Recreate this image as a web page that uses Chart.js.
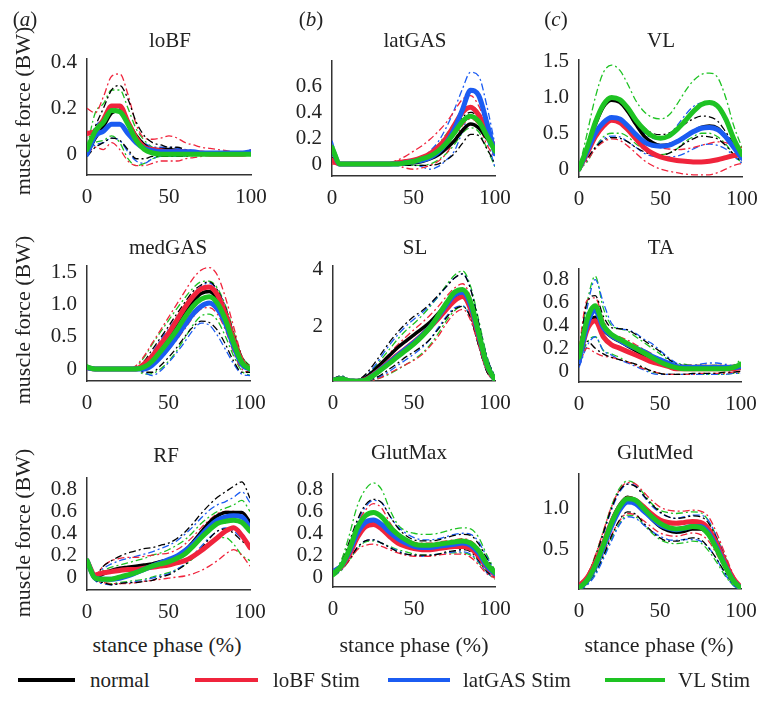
<!DOCTYPE html>
<html>
<head>
<meta charset="utf-8">
<script src="https://cdn.jsdelivr.net/npm/chart.js@4.4.1/dist/chart.umd.min.js"></script>
<style>
  body { margin: 0; background: #fff; }
  #wrap { position: relative; width: 761px; height: 708px; overflow: hidden;
          font-family: "Liberation Serif", "Times New Roman", serif; color: #222; }
  #wrap canvas { position: absolute; }
  .txt { position: absolute; white-space: nowrap; transform: translate(-50%, -50%); font-size: 21px; line-height: 1; }
  .ylab { transform: translate(-50%, -50%) rotate(-90deg); font-size: 22px; }
  .xlab { font-size: 22px; }
  .leg-line { position: absolute; height: 4px; }
  .leg-txt { position: absolute; white-space: nowrap; font-size: 21px; line-height: 1; transform: translateY(-50%); }
</style>
</head>
<body>
<div id="wrap"></div>
<script>
// stance phase samples (%)
const phase = [0, 5, 10, 15, 20, 25, 30, 35, 40, 45, 50, 55, 60, 65, 70, 75, 80, 85, 90, 95, 100];

const groupNames = ["normal", "loBF Stim", "latGAS Stim", "VL Stim"];

// ---- loBF ----
const loBF_normal    = [0.00,0.07,0.12,0.18,0.19,0.14,0.08,0.04,0.02,0.02,0.02,0.015,0.01,0.005,0,0,0,0,0,0,0];
const loBF_normal_hi = [0.02,0.12,0.20,0.28,0.30,0.24,0.14,0.08,0.05,0.04,0.03,0.03,0.02,0.015,0.01,0.01,0.005,0,0,0,0];
const loBF_normal_lo = [-0.01,0.03,0.05,0.07,0.06,0.02,-0.02,-0.02,-0.01,-0.01,-0.01,-0.01,-0.01,-0.005,0,0,0,0,0,0,0];
const loBF_red       = [0.09,0.10,0.15,0.21,0.21,0.14,0.07,0.03,0.02,0.015,0.01,0.01,0.01,0.005,0.005,0,0,0,0,0,0.01];
const loBF_red_hi    = [0.20,0.18,0.25,0.34,0.35,0.26,0.13,0.07,0.065,0.07,0.08,0.07,0.05,0.04,0.03,0.025,0.02,0.015,0.01,0.01,0.01];
const loBF_red_lo    = [0,0.03,0.02,0.05,0.02,-0.03,-0.05,-0.05,-0.04,-0.03,-0.03,-0.03,-0.02,-0.015,-0.01,-0.005,0,0,0,0,0];
const loBF_blue      = [0,0.08,0.10,0.13,0.13,0.09,0.05,0.025,0.015,0.01,0.01,0.01,0.01,0.01,0.005,0.005,0.005,0.005,0.005,0.005,0.01];
const loBF_blue_hi   = [0,0.12,0.15,0.19,0.20,0.15,0.08,0.05,0.03,0.03,0.03,0.025,0.02,0.015,0.01,0.01,0.01,0.01,0.01,0.01,0.02];
const loBF_blue_lo   = [0,0.04,0.05,0.07,0.06,0.01,-0.03,-0.04,-0.02,-0.01,-0.01,-0.01,-0.01,0,0,0,0,0,0,0,0];
const loBF_green     = [0.02,0.10,0.14,0.19,0.185,0.13,0.06,0.02,0.005,0,0,0,0,0,0,0,0,0,0,0,0];
const loBF_green_hi  = [0.03,0.18,0.22,0.28,0.28,0.20,0.11,0.06,0.03,0.02,0.02,0.015,0.01,0.01,0.01,0.01,0.01,0.01,0.01,0.01,0.01];
const loBF_green_lo  = [0,0.05,0.06,0.08,0.05,-0.02,-0.05,-0.04,-0.02,-0.01,-0.01,-0.01,-0.005,0,0,0,0,0,0,0,0];
const loBF_yTicks = [0, 0.2, 0.4];
const loBF_yLabels = ["0", "0.2", "0.4"];

// ---- latGAS ----
const latGAS_normal    = [0.1,0,0,0,0,0,0,0,0,0.005,0.01,0.02,0.04,0.07,0.12,0.18,0.26,0.31,0.28,0.2,0.13];
const latGAS_normal_hi = [0.12,0,0,0,0,0,0,0,0.01,0.02,0.03,0.05,0.08,0.13,0.2,0.27,0.36,0.4,0.36,0.25,0.14];
const latGAS_normal_lo = [0.05,0,0,0,0,0,0,0,0,-0.01,-0.01,-0.01,-0.01,0,0.03,0.08,0.16,0.23,0.22,0.12,0];
const latGAS_red       = [0.03,0,0,0,0,0,0,0,0.01,0.02,0.03,0.05,0.08,0.13,0.2,0.3,0.4,0.44,0.38,0.25,0.12];
const latGAS_red_hi    = [0.05,0,0,0,0,0,0,0.01,0.03,0.06,0.1,0.14,0.19,0.25,0.32,0.41,0.5,0.53,0.45,0.3,0.15];
const latGAS_red_lo    = [0,0,0,0,0,0,0,0,-0.01,-0.03,-0.04,-0.03,-0.01,0.02,0.08,0.18,0.3,0.35,0.3,0.15,0.05];
const latGAS_blue      = [0.12,0,0,0,0,0,0,0,0,0.01,0.02,0.03,0.05,0.09,0.16,0.27,0.42,0.57,0.53,0.32,0.08];
const latGAS_blue_hi   = [0.18,0,0,0,0,0,0,0,0.01,0.02,0.03,0.05,0.1,0.17,0.28,0.42,0.58,0.71,0.68,0.45,0.15];
const latGAS_blue_lo   = [0.05,0,0,0,0,0,0,0,0,-0.01,-0.01,-0.02,-0.04,-0.02,0.03,0.1,0.25,0.4,0.38,0.2,-0.03];
const latGAS_green     = [0.13,0,0,0,0,0,0,0,0,0.01,0.02,0.04,0.06,0.1,0.16,0.24,0.33,0.37,0.33,0.22,0.1];
const latGAS_green_hi  = [0.15,0,0,0,0,0,0,0,0.01,0.02,0.03,0.05,0.09,0.15,0.23,0.31,0.41,0.45,0.4,0.28,0.12];
const latGAS_green_lo  = [0.08,0,0,0,0,0,0,0,0,-0.01,-0.01,-0.01,0,0.03,0.08,0.15,0.24,0.28,0.25,0.12,-0.02];
const latGAS_yTicks = [0, 0.2, 0.4, 0.6];
const latGAS_yLabels = ["0", "0.2", "0.4", "0.6"];

// ---- VL ----
const VL_normal    = [0,0.3,0.62,0.87,0.96,0.93,0.8,0.62,0.46,0.37,0.33,0.34,0.38,0.45,0.52,0.58,0.6,0.57,0.45,0.3,0.15];
const VL_normal_hi = [0,0.35,0.7,0.9,0.97,0.95,0.85,0.7,0.58,0.5,0.48,0.5,0.55,0.63,0.7,0.74,0.73,0.67,0.52,0.35,0.18];
const VL_normal_lo = [0,0.15,0.3,0.4,0.44,0.43,0.38,0.3,0.24,0.2,0.19,0.22,0.28,0.36,0.42,0.46,0.45,0.42,0.33,0.2,0.1];
const VL_red       = [0,0.22,0.45,0.6,0.68,0.65,0.55,0.42,0.3,0.22,0.17,0.14,0.12,0.11,0.1,0.1,0.11,0.13,0.16,0.19,0.2];
const VL_red_hi    = [0,0.3,0.62,0.85,0.95,0.92,0.78,0.6,0.45,0.35,0.3,0.28,0.27,0.28,0.3,0.33,0.36,0.38,0.37,0.33,0.3];
const VL_red_lo    = [0,0.12,0.28,0.38,0.42,0.4,0.32,0.22,0.12,0.05,0,-0.03,-0.05,-0.07,-0.08,-0.08,-0.08,-0.05,0,0.05,0.08];
const VL_blue      = [0,0.25,0.5,0.65,0.72,0.7,0.6,0.48,0.38,0.33,0.32,0.33,0.38,0.45,0.52,0.57,0.58,0.55,0.45,0.3,0.15];
const VL_blue_hi   = [0,0.35,0.68,0.88,0.95,0.93,0.8,0.62,0.5,0.43,0.42,0.48,0.6,0.75,0.87,0.92,0.92,0.85,0.65,0.4,0.2];
const VL_blue_lo   = [0,0.12,0.3,0.42,0.46,0.45,0.38,0.3,0.22,0.18,0.17,0.17,0.18,0.22,0.28,0.33,0.35,0.33,0.28,0.18,0.08];
const VL_green     = [0,0.3,0.65,0.9,1.0,0.97,0.85,0.68,0.55,0.46,0.43,0.46,0.55,0.67,0.8,0.9,0.93,0.88,0.7,0.42,0.2];
const VL_green_hi  = [0,0.5,1.0,1.35,1.45,1.38,1.18,0.95,0.8,0.72,0.7,0.75,0.9,1.08,1.23,1.32,1.34,1.28,1.0,0.6,0.3];
const VL_green_lo  = [0,0.1,0.3,0.45,0.5,0.5,0.45,0.35,0.28,0.22,0.2,0.22,0.28,0.38,0.45,0.5,0.5,0.45,0.35,0.2,0.08];
const VL_yTicks = [0, 0.5, 1.0, 1.5];
const VL_yLabels = ["0", "0.5", "1.0", "1.5"];

// ---- medGAS ----
const medGAS_normal    = [0.02,0,0,0,0,0,0,0.05,0.17,0.33,0.5,0.68,0.88,1.05,1.17,1.2,1.08,0.8,0.42,0.1,0];
const medGAS_normal_hi = [0.05,0,0,0,0,0,0.02,0.12,0.3,0.48,0.66,0.85,1.03,1.2,1.3,1.35,1.22,0.95,0.55,0.2,0.02];
const medGAS_normal_lo = [0,0,0,0,0,0,0,-0.05,-0.05,0.05,0.18,0.33,0.5,0.65,0.74,0.72,0.6,0.38,0.12,-0.05,-0.05];
const medGAS_red       = [0.02,0,0,0,0,0,0,0.08,0.2,0.38,0.55,0.75,0.95,1.12,1.24,1.27,1.15,0.85,0.45,0.12,0];
const medGAS_red_hi    = [0.05,0,0,0,0,0,0.05,0.2,0.4,0.6,0.8,1.0,1.2,1.4,1.53,1.57,1.45,1.1,0.65,0.2,0];
const medGAS_red_lo    = [0,0,0,0,0,0,0,0,0.05,0.15,0.3,0.45,0.62,0.8,0.93,0.95,0.85,0.6,0.25,0,-0.05];
const medGAS_blue      = [0.02,0,0,0,0,0,0,0,0.06,0.18,0.33,0.5,0.68,0.85,0.97,1.02,0.93,0.7,0.35,0.07,0];
const medGAS_blue_hi   = [0.05,0,0,0,0,0,0,0.08,0.25,0.45,0.62,0.8,0.98,1.15,1.28,1.33,1.22,0.95,0.55,0.18,0];
const medGAS_blue_lo   = [0,0,0,0,0,0,0,-0.05,-0.1,-0.03,0.1,0.25,0.42,0.6,0.71,0.68,0.52,0.3,0.08,-0.08,-0.1];
const medGAS_green     = [0.03,0,0,0,0,0,0,0.03,0.12,0.27,0.43,0.6,0.8,0.97,1.08,1.12,1.02,0.76,0.4,0.1,0];
const medGAS_green_hi  = [0.07,0,0,0,0,0,0.04,0.18,0.38,0.57,0.75,0.93,1.1,1.25,1.35,1.36,1.25,0.98,0.58,0.2,0.05];
const medGAS_green_lo  = [0,0,0,0,0,0,0,-0.08,-0.07,0,0.12,0.28,0.48,0.68,0.82,0.85,0.75,0.5,0.2,-0.03,-0.1];
const medGAS_yTicks = [0, 0.5, 1.0, 1.5];
const medGAS_yLabels = ["0", "0.5", "1.0", "1.5"];

// ---- SL ----
const SL_normal    = [0.10,0.15,0.08,0.08,0.18,0.42,0.7,0.98,1.25,1.48,1.7,1.92,2.15,2.45,2.8,3.05,3.1,2.65,1.6,0.6,0.1];
const SL_normal_hi = [0.15,0.25,0.12,0.12,0.3,0.65,1.05,1.45,1.8,2.1,2.35,2.55,2.8,3.1,3.4,3.7,3.85,3.3,2.1,0.9,0.2];
const SL_normal_lo = [0.05,0.1,0.05,0.03,0.05,0.15,0.3,0.5,0.7,0.92,1.1,1.3,1.55,1.9,2.3,2.6,2.7,2.3,1.3,0.4,0.05];
const SL_red       = [0.10,0.15,0.08,0.06,0.12,0.3,0.52,0.76,1.0,1.22,1.45,1.7,1.97,2.27,2.6,2.9,3.05,2.6,1.6,0.6,0.1];
const SL_red_hi    = [0.15,0.22,0.1,0.1,0.2,0.45,0.75,1.05,1.35,1.62,1.88,2.13,2.4,2.7,3.05,3.35,3.5,3.0,1.9,0.8,0.15];
const SL_red_lo    = [0.05,0.08,0.05,0.03,0.05,0.1,0.2,0.35,0.5,0.65,0.8,1.0,1.3,1.65,2.1,2.45,2.6,2.2,1.3,0.4,0.05];
const SL_blue      = [0.10,0.15,0.08,0.06,0.1,0.28,0.5,0.73,0.97,1.2,1.42,1.68,1.98,2.35,2.75,3.1,3.2,2.75,1.7,0.65,0.1];
const SL_blue_hi   = [0.15,0.25,0.12,0.1,0.25,0.55,0.95,1.35,1.7,2.0,2.25,2.48,2.75,3.05,3.4,3.7,3.85,3.3,2.1,0.9,0.2];
const SL_blue_lo   = [0.05,0.1,0.05,0.03,0.05,0.12,0.25,0.42,0.62,0.82,1.02,1.25,1.55,1.95,2.35,2.65,2.72,2.3,1.3,0.4,0.05];
const SL_green     = [0.10,0.15,0.08,0.06,0.1,0.27,0.48,0.7,0.93,1.15,1.38,1.65,1.97,2.38,2.82,3.2,3.3,2.85,1.75,0.65,0.1];
const SL_green_hi  = [0.15,0.25,0.12,0.1,0.22,0.5,0.85,1.2,1.55,1.85,2.1,2.38,2.7,3.05,3.45,3.8,3.95,3.4,2.2,0.95,0.2];
const SL_green_lo  = [0.05,0.1,0.05,0.03,0.05,0.1,0.2,0.32,0.48,0.65,0.83,1.05,1.35,1.75,2.2,2.55,2.7,2.3,1.3,0.4,0.05];
const SL_yTicks = [2, 4];
const SL_yLabels = ["2", "4"];

// ---- TA ----
const TA_normal    = [0.1,0.38,0.47,0.36,0.3,0.26,0.22,0.18,0.14,0.1,0.07,0.04,0.02,0.02,0.02,0.02,0.02,0.02,0.02,0.02,0.04];
const TA_normal_hi = [0.15,0.6,0.66,0.48,0.38,0.37,0.36,0.32,0.27,0.22,0.17,0.11,0.06,0.05,0.05,0.05,0.05,0.05,0.05,0.04,0.06];
const TA_normal_lo = [0.05,0.26,0.2,0.15,0.12,0.1,0.08,0.06,0.03,0,-0.02,-0.03,-0.03,-0.03,-0.02,-0.02,-0.02,-0.02,-0.01,-0.01,0];
const TA_red       = [0.1,0.36,0.44,0.3,0.23,0.2,0.17,0.14,0.11,0.08,0.06,0.04,0.02,0.02,0.02,0.02,0.02,0.02,0.02,0.02,0.03];
const TA_red_hi    = [0.2,0.62,0.64,0.45,0.33,0.3,0.27,0.23,0.19,0.15,0.1,0.07,0.05,0.05,0.05,0.05,0.05,0.05,0.05,0.05,0.05];
const TA_red_lo    = [0.05,0.2,0.16,0.13,0.12,0.1,0.08,0.05,0.02,0,-0.02,-0.03,-0.03,-0.03,-0.03,-0.02,-0.02,-0.02,-0.02,-0.01,-0.01];
const TA_blue      = [0.08,0.4,0.53,0.38,0.31,0.27,0.23,0.2,0.17,0.13,0.1,0.07,0.04,0.03,0.03,0.03,0.03,0.03,0.03,0.03,0.04];
const TA_blue_hi   = [0.15,0.55,0.8,0.6,0.42,0.37,0.36,0.33,0.28,0.24,0.18,0.12,0.07,0.05,0.05,0.06,0.07,0.07,0.06,0.05,0.07];
const TA_blue_lo   = [0.03,0.22,0.3,0.18,0.14,0.1,0.07,0.04,0.01,-0.02,-0.03,-0.03,-0.03,-0.03,-0.03,-0.03,-0.03,-0.03,-0.03,-0.02,-0.02];
const TA_green     = [0.12,0.45,0.57,0.4,0.32,0.28,0.24,0.2,0.16,0.12,0.08,0.05,0.03,0.02,0.02,0.02,0.02,0.02,0.02,0.03,0.06];
const TA_green_hi  = [0.2,0.6,0.83,0.55,0.4,0.37,0.35,0.3,0.25,0.2,0.15,0.1,0.07,0.06,0.05,0.05,0.05,0.05,0.05,0.05,0.1];
const TA_green_lo  = [0.05,0.25,0.3,0.18,0.15,0.12,0.08,0.05,0.02,-0.01,-0.02,-0.03,-0.03,-0.03,-0.03,-0.03,-0.03,-0.03,-0.03,-0.02,-0.02];
const TA_yTicks = [0, 0.2, 0.4, 0.6, 0.8];
const TA_yLabels = ["0", "0.2", "0.4", "0.6", "0.8"];

// ---- RF ----
const RF_normal    = [0.15,0,0.03,0.06,0.08,0.09,0.1,0.11,0.12,0.14,0.16,0.19,0.24,0.32,0.41,0.5,0.56,0.59,0.59,0.59,0.5];
const RF_normal_hi = [0.17,0.02,0.1,0.15,0.19,0.22,0.24,0.26,0.27,0.29,0.31,0.35,0.41,0.49,0.58,0.66,0.73,0.78,0.83,0.87,0.72];
const RF_normal_lo = [0.13,-0.02,-0.05,-0.07,-0.06,-0.05,-0.05,-0.04,-0.03,0,0.02,0.06,0.11,0.18,0.26,0.35,0.42,0.44,0.4,0.33,0.28];
const RF_red       = [0.15,0.02,0.04,0.05,0.06,0.07,0.07,0.08,0.09,0.1,0.11,0.13,0.15,0.19,0.24,0.3,0.36,0.42,0.45,0.38,0.27];
const RF_red_hi    = [0.15,0.02,0.1,0.15,0.17,0.18,0.18,0.19,0.2,0.21,0.22,0.25,0.3,0.37,0.45,0.52,0.58,0.6,0.6,0.55,0.45];
const RF_red_lo    = [0.15,-0.02,-0.05,-0.06,-0.06,-0.06,-0.05,-0.04,-0.03,-0.02,-0.01,0,0.01,0.03,0.06,0.1,0.15,0.21,0.25,0.2,0.1];
const RF_blue      = [0.15,-0.01,-0.02,-0.02,-0.01,0.01,0.04,0.07,0.1,0.13,0.16,0.19,0.24,0.3,0.38,0.46,0.52,0.55,0.56,0.55,0.45];
const RF_blue_hi   = [0.15,0.02,0.08,0.12,0.15,0.17,0.19,0.21,0.23,0.26,0.29,0.33,0.39,0.46,0.54,0.61,0.66,0.69,0.73,0.78,0.68];
const RF_blue_lo   = [0.13,-0.03,-0.06,-0.07,-0.06,-0.05,-0.04,-0.03,-0.01,0.01,0.03,0.07,0.12,0.2,0.28,0.36,0.42,0.45,0.42,0.35,0.28];
const RF_green     = [0.15,-0.01,-0.02,-0.02,0,0.02,0.04,0.07,0.1,0.12,0.14,0.17,0.21,0.28,0.36,0.43,0.49,0.51,0.52,0.5,0.42];
const RF_green_hi  = [0.15,0.02,0.06,0.09,0.11,0.13,0.15,0.17,0.2,0.22,0.25,0.29,0.34,0.41,0.49,0.55,0.6,0.63,0.66,0.7,0.6];
const RF_green_lo  = [0.13,-0.03,-0.05,-0.06,-0.05,-0.04,-0.03,-0.02,0,0.02,0.04,0.07,0.11,0.17,0.24,0.31,0.36,0.36,0.3,0.2,0.15];
const RF_yTicks = [0, 0.2, 0.4, 0.6, 0.8];
const RF_yLabels = ["0", "0.2", "0.4", "0.6", "0.8"];

// ---- GlutMax ----
const GlutMax_normal    = [0.04,0.1,0.24,0.4,0.49,0.5,0.46,0.39,0.34,0.3,0.28,0.27,0.27,0.28,0.3,0.31,0.32,0.3,0.23,0.11,0.03];
const GlutMax_normal_hi = [0.05,0.13,0.32,0.52,0.66,0.71,0.68,0.56,0.45,0.38,0.34,0.33,0.33,0.34,0.36,0.38,0.39,0.38,0.3,0.17,0.05];
const GlutMax_normal_lo = [0.02,0.07,0.16,0.27,0.33,0.34,0.31,0.27,0.23,0.21,0.2,0.2,0.2,0.21,0.23,0.24,0.25,0.23,0.15,0.05,0];
const GlutMax_red       = [0.05,0.09,0.2,0.36,0.46,0.48,0.44,0.37,0.31,0.28,0.26,0.25,0.25,0.26,0.27,0.28,0.28,0.26,0.19,0.09,0.02];
const GlutMax_red_hi    = [0.06,0.12,0.28,0.48,0.61,0.67,0.63,0.5,0.4,0.35,0.32,0.31,0.31,0.32,0.33,0.34,0.35,0.33,0.26,0.13,0.04];
const GlutMax_red_lo    = [0.03,0.07,0.15,0.25,0.29,0.3,0.28,0.25,0.22,0.2,0.19,0.19,0.19,0.2,0.21,0.21,0.21,0.18,0.11,0.03,-0.01];
const GlutMax_blue      = [0.05,0.1,0.23,0.4,0.5,0.52,0.48,0.41,0.35,0.31,0.28,0.27,0.27,0.28,0.29,0.3,0.31,0.29,0.22,0.1,0.03];
const GlutMax_blue_hi   = [0.05,0.12,0.3,0.5,0.64,0.7,0.68,0.56,0.46,0.4,0.36,0.34,0.34,0.35,0.37,0.39,0.4,0.39,0.32,0.18,0.05];
const GlutMax_blue_lo   = [0.02,0.06,0.16,0.27,0.33,0.34,0.31,0.27,0.24,0.21,0.2,0.19,0.2,0.21,0.22,0.23,0.23,0.21,0.14,0.04,0];
const GlutMax_green     = [0.03,0.1,0.25,0.45,0.56,0.59,0.55,0.46,0.39,0.34,0.3,0.29,0.29,0.3,0.31,0.32,0.33,0.31,0.24,0.12,0.04];
const GlutMax_green_hi  = [0.05,0.15,0.38,0.65,0.8,0.86,0.8,0.62,0.48,0.42,0.4,0.39,0.39,0.4,0.42,0.44,0.45,0.44,0.36,0.2,0.06];
const GlutMax_green_lo  = [0,0.06,0.15,0.26,0.32,0.33,0.31,0.28,0.25,0.23,0.21,0.2,0.2,0.21,0.22,0.22,0.22,0.2,0.13,0.04,-0.02];
const GlutMax_yTicks = [0, 0.2, 0.4, 0.6, 0.8];
const GlutMax_yLabels = ["0", "0.2", "0.4", "0.6", "0.8"];

// ---- GlutMed ----
const GlutMed_normal    = [0.02,0.13,0.32,0.57,0.84,1.04,1.14,1.1,0.98,0.87,0.78,0.73,0.71,0.72,0.75,0.75,0.68,0.52,0.32,0.13,0.02];
const GlutMed_normal_hi = [0.03,0.17,0.4,0.7,1.0,1.22,1.3,1.27,1.16,1.05,0.96,0.9,0.88,0.89,0.91,0.9,0.82,0.63,0.4,0.17,0.03];
const GlutMed_normal_lo = [0,0.08,0.22,0.42,0.66,0.86,0.96,0.93,0.82,0.72,0.64,0.6,0.6,0.62,0.64,0.62,0.52,0.38,0.22,0.08,0];
const GlutMed_red       = [0.05,0.15,0.33,0.57,0.83,1.02,1.12,1.1,1.02,0.93,0.86,0.83,0.82,0.83,0.84,0.83,0.75,0.57,0.35,0.15,0.03];
const GlutMed_red_hi    = [0.07,0.18,0.42,0.72,1.02,1.23,1.32,1.3,1.2,1.1,1.02,0.98,0.97,0.97,0.98,0.97,0.9,0.7,0.45,0.2,0.04];
const GlutMed_red_lo    = [0.03,0.1,0.24,0.44,0.67,0.85,0.94,0.92,0.85,0.77,0.7,0.67,0.66,0.68,0.7,0.68,0.6,0.44,0.26,0.1,0.01];
const GlutMed_blue      = [0.02,0.11,0.28,0.52,0.78,0.98,1.08,1.06,0.97,0.88,0.8,0.76,0.74,0.76,0.78,0.78,0.7,0.52,0.31,0.12,0.02];
const GlutMed_blue_hi   = [0.03,0.16,0.38,0.68,0.98,1.2,1.3,1.28,1.15,1.03,0.95,0.9,0.88,0.9,0.92,0.92,0.85,0.65,0.42,0.18,0.03];
const GlutMed_blue_lo   = [0,0.06,0.18,0.38,0.6,0.8,0.9,0.88,0.8,0.72,0.66,0.62,0.61,0.62,0.62,0.6,0.52,0.38,0.2,0.06,0];
const GlutMed_green     = [0.02,0.12,0.3,0.55,0.82,1.02,1.12,1.1,1.0,0.9,0.82,0.77,0.75,0.76,0.78,0.77,0.68,0.5,0.3,0.12,0.02];
const GlutMed_green_hi  = [0.03,0.18,0.42,0.72,1.03,1.25,1.34,1.3,1.18,1.06,0.98,0.95,0.94,0.95,0.96,0.95,0.85,0.65,0.42,0.18,0.03];
const GlutMed_green_lo  = [0,0.07,0.2,0.4,0.63,0.82,0.92,0.9,0.8,0.7,0.62,0.58,0.57,0.58,0.6,0.58,0.48,0.34,0.18,0.06,0];
const GlutMed_yTicks = [0.5, 1.0];
const GlutMed_yLabels = ["0.5", "1.0"];

// colours, line styles
const COLORS = ["#000000", "#f0243c", "#1b5cf2", "#1ec323"];
const MEAN_WIDTH = [3.5, 5, 5, 5];
const FONT = "'Liberation Serif', 'Times New Roman', serif";

// panel boxes in page pixels: L = x of 0, R = x of 100, T/B = plot top/bottom
const panels = [
  { name: "loBF",    L: 87,  R: 251, T: 58,  B: 175, yMin: -0.091, yMax: 0.417, tx: 170, ty: 40,
    s: [[loBF_normal, loBF_normal_hi, loBF_normal_lo], [loBF_red, loBF_red_hi, loBF_red_lo], [loBF_blue, loBF_blue_hi, loBF_blue_lo], [loBF_green, loBF_green_hi, loBF_green_lo]],
    ticks: loBF_yTicks, labels: loBF_yLabels },
  { name: "latGAS",  L: 332, R: 495, T: 60,  B: 176, yMin: -0.092, yMax: 0.8, tx: 415, ty: 40,
    s: [[latGAS_normal, latGAS_normal_hi, latGAS_normal_lo], [latGAS_red, latGAS_red_hi, latGAS_red_lo], [latGAS_blue, latGAS_blue_hi, latGAS_blue_lo], [latGAS_green, latGAS_green_hi, latGAS_green_lo]],
    ticks: latGAS_yTicks, labels: latGAS_yLabels },
  { name: "VL",      L: 579, R: 742, T: 59,  B: 177, yMin: -0.111, yMax: 1.528, tx: 661, ty: 40,
    s: [[VL_normal, VL_normal_hi, VL_normal_lo], [VL_red, VL_red_hi, VL_red_lo], [VL_blue, VL_blue_hi, VL_blue_lo], [VL_green, VL_green_hi, VL_green_lo]],
    ticks: VL_yTicks, labels: VL_yLabels },
  { name: "medGAS",  L: 87,  R: 250, T: 265, B: 381, yMin: -0.185, yMax: 1.6, tx: 168, ty: 247,
    s: [[medGAS_normal, medGAS_normal_hi, medGAS_normal_lo], [medGAS_red, medGAS_red_hi, medGAS_red_lo], [medGAS_blue, medGAS_blue_hi, medGAS_blue_lo], [medGAS_green, medGAS_green_hi, medGAS_green_lo]],
    ticks: medGAS_yTicks, labels: medGAS_yLabels },
  { name: "SL",      L: 333, R: 495, T: 265, B: 381, yMin: 0.07, yMax: 4.14, tx: 415, ty: 247,
    s: [[SL_normal, SL_normal_hi, SL_normal_lo], [SL_red, SL_red_hi, SL_red_lo], [SL_blue, SL_blue_hi, SL_blue_lo], [SL_green, SL_green_hi, SL_green_lo]],
    ticks: SL_yTicks, labels: SL_yLabels },
  { name: "TA",      L: 579, R: 741, T: 268, B: 382, yMin: -0.096, yMax: 0.896, tx: 661, ty: 247,
    s: [[TA_normal, TA_normal_hi, TA_normal_lo], [TA_red, TA_red_hi, TA_red_lo], [TA_blue, TA_blue_hi, TA_blue_lo], [TA_green, TA_green_hi, TA_green_lo]],
    ticks: TA_yTicks, labels: TA_yLabels },
  { name: "RF",      L: 87,  R: 250, T: 477, B: 590, yMin: -0.118, yMax: 0.909, tx: 166, ty: 455,
    s: [[RF_normal, RF_normal_hi, RF_normal_lo], [RF_red, RF_red_hi, RF_red_lo], [RF_blue, RF_blue_hi, RF_blue_lo], [RF_green, RF_green_hi, RF_green_lo]],
    ticks: RF_yTicks, labels: RF_yLabels },
  { name: "GlutMax", L: 333, R: 495, T: 473, B: 587, yMin: -0.091, yMax: 0.945, tx: 409, ty: 452,
    s: [[GlutMax_normal, GlutMax_normal_hi, GlutMax_normal_lo], [GlutMax_red, GlutMax_red_hi, GlutMax_red_lo], [GlutMax_blue, GlutMax_blue_hi, GlutMax_blue_lo], [GlutMax_green, GlutMax_green_hi, GlutMax_green_lo]],
    ticks: GlutMax_yTicks, labels: GlutMax_yLabels },
  { name: "GlutMed", L: 579, R: 741, T: 473, B: 589, yMin: 0.012, yMax: 1.43, tx: 655, ty: 452,
    s: [[GlutMed_normal, GlutMed_normal_hi, GlutMed_normal_lo], [GlutMed_red, GlutMed_red_hi, GlutMed_red_lo], [GlutMed_blue, GlutMed_blue_hi, GlutMed_blue_lo], [GlutMed_green, GlutMed_green_hi, GlutMed_green_lo]],
    ticks: GlutMed_yTicks, labels: GlutMed_yLabels }
];

const wrap = document.getElementById("wrap");

function addText(html, cx, cy, cls) {
  const d = document.createElement("div");
  d.className = "txt" + (cls ? " " + cls : "");
  d.innerHTML = html;
  d.style.left = cx + "px";
  d.style.top = cy + "px";
  wrap.appendChild(d);
  return d;
}

const pts = (arr) => arr.map((v, i) => ({ x: phase[i], y: v }));

function buildPanel(p) {
  const axW = 70, axH = 36, padT = 22, padR = 26;
  const w = p.R - p.L + axW + padR;
  const h = p.B - p.T + padT + axH;
  const canvas = document.createElement("canvas");
  canvas.width = w;
  canvas.height = h;
  canvas.style.left = (p.L - axW) + "px";
  canvas.style.top = (p.T - padT) + "px";
  canvas.style.width = w + "px";
  canvas.style.height = h + "px";
  wrap.appendChild(canvas);

  const datasets = [];
  p.s.forEach((grp, gi) => {
    [grp[1], grp[2]].forEach((band) => {
      datasets.push({
        data: pts(band),
        borderColor: COLORS[gi],
        borderWidth: 1.3,
        borderDash: [7, 3, 2, 3],
        order: 10
      });
    });
  });
  p.s.forEach((grp, gi) => {
    datasets.push({
      label: groupNames[gi],
      data: pts(grp[0]),
      borderColor: COLORS[gi],
      borderWidth: MEAN_WIDTH[gi],
      borderCapStyle: "round",
      order: 4 - gi
    });
  });

  new Chart(canvas, {
    type: "line",
    data: { datasets },
    options: {
      responsive: false,
      animation: false,
      devicePixelRatio: 1,
      layout: { autoPadding: false, padding: { left: 0, top: padT, right: padR, bottom: 0 } },
      plugins: { legend: { display: false }, tooltip: { enabled: false } },
      elements: {
        point: { radius: 0 },
        line: { cubicInterpolationMode: "monotone", fill: false }
      },
      scales: {
        x: {
          type: "linear",
          min: 0,
          max: 100,
          afterFit: (s) => { s.height = axH; },
          grid: { display: false, drawTicks: false },
          border: { display: true, color: "#333", width: 1.5 },
          ticks: { stepSize: 50, padding: 10, color: "#222", maxRotation: 0, autoSkip: false,
                   font: { family: FONT, size: 21 } }
        },
        y: {
          type: "linear",
          min: p.yMin,
          max: p.yMax,
          afterFit: (s) => { s.width = axW; },
          afterBuildTicks: (s) => { s.ticks = p.ticks.map((v) => ({ value: v })); },
          grid: { display: false, drawTicks: false },
          border: { display: true, color: "#333", width: 1.5 },
          ticks: { padding: 10, color: "#222", autoSkip: false,
                   callback: (v, i) => p.labels[i],
                   font: { family: FONT, size: 21 } }
        }
      }
    }
  });

  addText(p.name, p.tx, p.ty);
}

panels.forEach(buildPanel);

// panel letters
addText("(<i>a</i>)", 25, 19);
addText("(<i>b</i>)", 311, 19);
addText("(<i>c</i>)", 556, 19);

// axis titles
[111, 320, 533].forEach((cy) => addText("muscle force (BW)", 23, cy, "ylab"));
[167, 414, 659].forEach((cx) => addText("stance phase (%)", cx, 645, "xlab"));

// legend
const legendLines = [[18, 75], [195, 258], [388, 450], [605, 665]];
const legendText = [90, 273, 463, 678];
groupNames.forEach((name, i) => {
  const line = document.createElement("div");
  line.className = "leg-line";
  line.style.left = legendLines[i][0] + "px";
  line.style.width = (legendLines[i][1] - legendLines[i][0]) + "px";
  line.style.top = "678px";
  line.style.background = COLORS[i];
  wrap.appendChild(line);
  const t = document.createElement("div");
  t.className = "leg-txt";
  t.textContent = name;
  t.style.left = legendText[i] + "px";
  t.style.top = "680px";
  wrap.appendChild(t);
});
</script>
</body>
</html>
